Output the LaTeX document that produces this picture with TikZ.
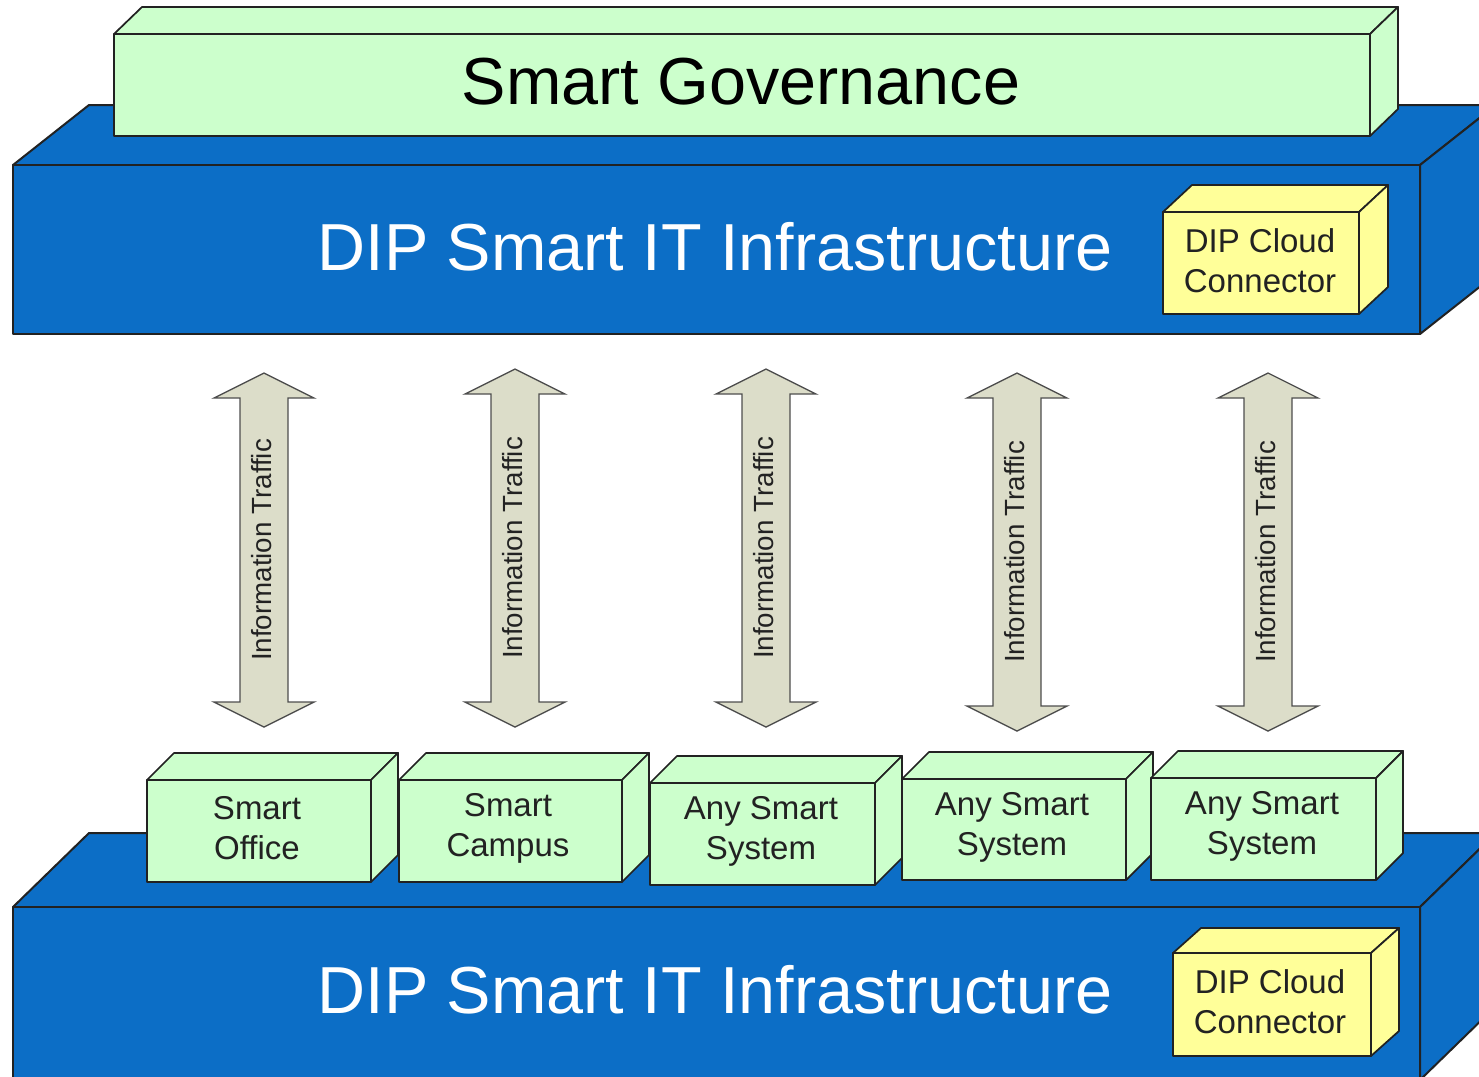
\documentclass[tikz,border=0pt]{standalone}
\usepackage{fontspec}
\setmainfont{Liberation Sans}
\definecolor{layerblue}{HTML}{0C6EC6}
\definecolor{boxgreen}{HTML}{CCFFCC}
\definecolor{boxyellow}{HTML}{FFFF99}
\definecolor{arrowfill}{HTML}{DCDDC9}
\definecolor{edgecol}{HTML}{222222}
\tikzset{
  bluebox/.style={fill=layerblue, draw=edgecol, line width=1.5pt, line join=round},
  greenbox/.style={fill=boxgreen, draw=edgecol, line width=1.3pt, line join=round},
  yellowbox/.style={fill=boxyellow, draw=edgecol, line width=1.3pt, line join=round},
  arrowsty/.style={fill=arrowfill, draw=edgecol!80, line width=1pt, line join=miter},
  bigtext/.style={font=\fontsize{49.9}{60}\selectfont, inner sep=0pt},
  boxtext/.style={font=\fontsize{24.75}{30}\selectfont, align=center, text=edgecol, inner sep=0pt},
  arrowtext/.style={font=\fontsize{20.8}{25}\selectfont, text=edgecol, inner sep=0pt}
}
\newcommand{\cubo}[7]{%
  \filldraw[#1] (#2,#3) -- (#2+#6,#3-#7) -- (#4+#6,#3-#7) -- (#4,#3) -- cycle;
  \filldraw[#1] (#4,#3) -- (#4+#6,#3-#7) -- (#4+#6,#5-#7) -- (#4,#5) -- cycle;
  \filldraw[#1] (#2,#3) rectangle (#4,#5);
}
\newcommand{\infoarrow}[4]{%
  \draw[arrowsty] (#2,#3) -- (#2+50,#3+25) -- (#2+24,#3+25) -- (#2+24,#4-25) -- (#2+50,#4-25) -- (#2,#4) -- (#2-50,#4-25) -- (#2-24,#4-25) -- (#2-24,#3+25) -- (#2-50,#3+25) -- cycle;
  \node[arrowtext, rotate=90] (#1) at (#2-2,{(#3+#4)/2}) {Information Traffic};
}
\begin{document}
\begin{tikzpicture}[x=0.75pt,y=-0.75pt]
\useasboundingbox (0,0) rectangle (1479,1076);
\clip (0,0) rectangle (1479,1076);
% top layer
\cubo{bluebox}{13}{165}{1420}{334}{76}{60}
\cubo{greenbox}{114}{34}{1370}{136}{28}{27}
\node[bigtext, text=black] (gov) at (741,82) {Smart Governance};
\node[bigtext, text=white] (infratop) at (715,247) {DIP Smart IT Infrastructure};
\cubo{yellowbox}{1163}{212}{1359}{314}{29}{27}
\node[boxtext] (cloudtop) at (1260,261) {DIP Cloud\\Connector};
% bottom layer
\cubo{bluebox}{13}{907}{1420}{1080}{76}{74}
\node[bigtext, text=white] (infrabot) at (715,990) {DIP Smart IT Infrastructure};
\cubo{yellowbox}{1173}{953}{1371}{1056}{28}{25}
\node[boxtext] (cloudbot) at (1270,1002) {DIP Cloud\\Connector};
\cubo{greenbox}{147}{780}{371}{882}{27}{27}
\node[boxtext] (office) at (257,828) {Smart\\Office};
\cubo{greenbox}{399}{780}{622}{882}{27}{27}
\node[boxtext] (campus) at (508,828) {Smart\\Campus};
\cubo{greenbox}{650}{783}{875}{885}{27}{27}
\node[boxtext] (any1) at (761,831) {Any Smart\\System};
\cubo{greenbox}{902}{779}{1126}{880}{27}{27}
\node[boxtext] (any2) at (1012,827) {Any Smart\\System};
\cubo{greenbox}{1151}{778}{1376}{880}{27}{27}
\node[boxtext] (any3) at (1262,826) {Any Smart\\System};
% arrows
\infoarrow{a1}{264}{373}{727}
\infoarrow{a2}{515}{369}{727}
\infoarrow{a3}{766}{369}{727}
\infoarrow{a4}{1017}{373}{731}
\infoarrow{a5}{1268}{373}{731}
\end{tikzpicture}
\end{document}
